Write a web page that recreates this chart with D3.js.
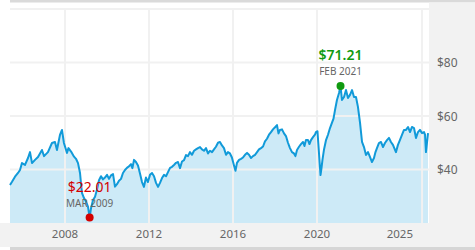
<html>
<head>
<script src="https://d3js.org/d3.v7.min.js"></script>
<style>
  body { margin: 0; background: #fff; }
  text { font-family: "Noto Sans", "Open Sans", sans-serif; }
</style>
</head>
<body>
<svg id="chart" width="475" height="250"></svg>
<script>
// price history
const dates = [
  "2005-05-19","2005-06-23","2005-08-14","2005-10-05","2005-11-09","2005-12-13",
  "2006-02-04","2006-03-28","2006-05-02","2006-06-06","2006-07-28","2006-09-18","2006-11-26",
  "2007-01-01","2007-03-10","2007-05-19","2007-07-10","2007-08-14","2007-10-05","2007-11-09","2007-12-13",
  "2008-02-04","2008-03-01","2008-04-15","2008-06-06","2008-07-10","2008-08-14","2008-09-18","2008-10-10","2008-10-23","2008-11-26",
  "2009-01-01","2009-02-04","2009-03-04","2009-03-28","2009-05-02","2009-06-06","2009-07-10","2009-08-14","2009-09-18","2009-10-23","2009-11-26",
  "2010-01-01","2010-02-04","2010-03-10","2010-04-15","2010-05-19","2010-06-23","2010-07-28","2010-09-01","2010-10-05","2010-11-09","2010-12-13",
  "2011-01-18","2011-02-22","2011-03-18","2011-04-15","2011-05-19","2011-06-23","2011-07-28","2011-09-01","2011-10-05","2011-11-09","2011-12-13",
  "2012-01-18","2012-02-22","2012-03-28","2012-05-02","2012-06-06","2012-07-10","2012-08-14","2012-09-18","2012-10-23","2012-11-26",
  "2013-01-01","2013-02-04","2013-03-10","2013-04-15","2013-05-19","2013-06-23","2013-07-28","2013-09-01","2013-10-05","2013-11-09","2013-12-13",
  "2014-01-18","2014-02-22","2014-03-28","2014-05-02","2014-06-06","2014-07-10","2014-08-14","2014-09-18","2014-10-23","2014-11-26",
  "2015-01-01","2015-02-04","2015-03-10","2015-04-15","2015-05-19","2015-06-23","2015-07-28","2015-09-01","2015-10-05","2015-11-09","2015-12-13",
  "2016-01-18","2016-02-13","2016-03-10","2016-04-15","2016-05-19","2016-06-23","2016-07-28","2016-09-01","2016-10-05","2016-11-09","2016-12-13",
  "2017-01-18","2017-02-22","2017-03-28","2017-05-02","2017-06-06","2017-07-10","2017-08-14","2017-09-18","2017-10-23","2017-11-26",
  "2018-01-01","2018-02-04","2018-03-02","2018-03-28","2018-05-02","2018-06-06","2018-07-10","2018-08-14","2018-09-18","2018-10-23","2018-11-26","2018-12-22",
  "2019-01-18","2019-02-22","2019-03-28","2019-05-02","2019-05-28","2019-06-23","2019-07-28","2019-08-23","2019-09-18","2019-10-23","2019-11-26","2019-12-13",
  "2020-01-09","2020-01-23","2020-03-02","2020-03-19","2020-04-05","2020-05-02","2020-06-06","2020-07-10","2020-08-14","2020-09-18","2020-10-14","2020-11-09","2020-12-13",
  "2021-01-18","2021-02-13","2021-03-10","2021-04-15","2021-05-19","2021-06-23","2021-07-28","2021-09-01","2021-10-05","2021-11-09","2021-12-13",
  "2022-01-18","2022-02-22","2022-03-28","2022-05-02","2022-06-06","2022-07-10","2022-08-14","2022-09-18","2022-10-14","2022-11-09","2022-12-13",
  "2023-01-18","2023-02-22","2023-03-28","2023-05-02","2023-06-06","2023-07-10","2023-08-14","2023-10-05","2023-11-09","2023-12-13",
  "2024-01-18","2024-02-22","2024-03-28","2024-05-02","2024-06-06","2024-07-10","2024-08-14","2024-09-18","2024-10-23","2024-11-26",
  "2025-01-01","2025-02-04","2025-02-22","2025-03-10","2025-03-28","2025-04-15"
];
const prices = [
  34.2,35.4,37.3,38.7,39.8,42.4,
  41.7,44.3,46.5,42.4,43.6,44.7,47.3,
  45.0,46.5,49.9,50.3,47.3,52.9,54.8,49.9,
  46.2,48.0,46.7,44.8,44.0,42.4,38.7,33.6,31.2,29.3,
  28.0,26.0,22.01,25.5,28.6,29.8,32.5,36.0,37.5,36.3,37.0,
  38.0,36.5,37.8,38.3,33.6,34.5,35.8,36.5,38.7,39.8,40.6,
  41.2,42.0,40.5,43.6,42.8,41.5,38.5,35.3,33.5,37.0,35.3,
  38.0,38.7,37.5,35.0,33.5,35.0,36.8,38.0,37.5,39.0,
  40.6,41.0,41.7,42.5,42.8,40.5,43.0,43.5,45.4,45.0,46.5,
  45.5,47.0,47.5,48.0,48.4,47.5,47.0,48.0,46.0,47.0,
  46.5,47.5,48.5,50.0,50.3,49.0,48.0,45.5,46.5,46.0,44.5,
  41.5,39.5,42.5,43.6,44.0,44.5,45.5,46.2,45.5,44.3,45.0,
  45.5,46.5,47.5,48.0,48.6,50.5,51.5,53.0,54.0,55.0,
  55.8,56.6,53.5,54.8,55.0,53.5,52.5,50.0,48.0,46.5,46.0,45.0,
  47.3,48.5,49.5,50.3,48.8,51.0,51.0,49.5,51.0,52.1,53.0,54.0,
  54.3,50.0,37.9,40.5,43.6,47.5,51.0,53.0,55.5,57.5,59.0,62.2,66.0,
  68.6,71.21,66.0,67.1,69.7,66.7,67.9,69.7,67.1,67.1,63.4,
  57.5,50.3,48.4,45.4,46.5,44.7,42.8,44.3,46.5,48.0,49.9,
  50.3,48.4,49.9,51.0,51.8,50.3,49.2,46.5,49.2,51.0,
  52.9,54.8,54.8,55.9,54.0,55.9,55.5,51.8,54.0,54.8,
  53.6,54.0,53.0,46.5,50.0,53.6
];

const xDomain = ["2005-05-19", "2025-05-02"];
const yDomain = [20, 100];
const gridYears = ["2008", "2012", "2016", "2020", "2025"];
const gridPrices = [40, 60, 80, 100];
const priceLabels = [80, 60, 40];

const highDate = "2021-02-13", highPrice = 71.21, highLabel = "FEB 2021";
const lowDate = "2009-03-04", lowPrice = 22.01, lowLabel = "MAR 2009";

const parse = d3.timeParse("%Y-%m-%d");
const data = dates.map((d, i) => ({ date: parse(d), price: prices[i] }));

const svg = d3.select("#chart");
const plotLeft = 10, plotRight = 429, plotTop = 9, plotBottom = 223;

const x = d3.scaleTime().domain(xDomain.map(parse)).range([plotLeft, plotRight]);
const y = d3.scaleLinear().domain(yDomain).range([plotBottom, plotTop]);

// frame pieces
svg.append("rect").attr("x", plotLeft).attr("y", 0).attr("width", 475 - plotLeft).attr("height", 2.5).attr("fill", "#dadada");
svg.append("rect").attr("x", plotRight).attr("y", 2.5).attr("width", 475 - plotRight).attr("height", plotBottom - 2.5).attr("fill", "#f2f2f2");
svg.append("rect").attr("x", 0).attr("y", plotBottom).attr("width", 475).attr("height", 24).attr("fill", "#f2f2f2");
svg.append("rect").attr("x", plotLeft).attr("y", 247).attr("width", 475 - plotLeft).attr("height", 3).attr("fill", "#d6d6d6");

// area fill
svg.append("path")
  .datum(data)
  .attr("fill", "#cdeaf7")
  .attr("d", d3.area().x(d => x(d.date)).y0(plotBottom).y1(d => y(d.price)));

// grid
const yearDate = yr => d3.timeParse("%Y")(yr);
svg.selectAll("line.vgrid").data(gridYears).join("line")
  .attr("x1", d => x(yearDate(d))).attr("x2", d => x(yearDate(d)))
  .attr("y1", plotTop).attr("y2", plotBottom)
  .attr("stroke", "#f1f1f1").attr("stroke-width", 2);
svg.selectAll("line.hgrid").data(gridPrices).join("line")
  .attr("x1", plotLeft).attr("x2", plotRight)
  .attr("y1", d => y(d)).attr("y2", d => y(d))
  .attr("stroke", "#f1f1f1").attr("stroke-width", 2);

// price line
svg.append("path")
  .datum(data)
  .attr("fill", "none")
  .attr("stroke", "#119ad9")
  .attr("stroke-width", 2)
  .attr("stroke-linejoin", "round")
  .attr("d", d3.line().x(d => x(d.date)).y(d => y(d.price)));

// axis labels
svg.selectAll("text.ylab").data(priceLabels).join("text")
  .attr("x", 437).attr("y", d => y(d))
  .attr("dominant-baseline", "central")
  .attr("font-size", 12).attr("fill", "#666")
  .text(d => "$" + d);

svg.selectAll("text.xlab").data(gridYears).join("text")
  .attr("x", (d, i) => i === gridYears.length - 1 ? x(yearDate(d)) - 9 : x(yearDate(d)))
  .attr("y", 238)
  .attr("text-anchor", (d, i) => i === gridYears.length - 1 ? "end" : "middle")
  .attr("font-size", 11.5).attr("fill", "#666")
  .text(d => d);

// high / low markers
function marker(dateStr, price, label, color, weight) {
  const cx = x(parse(dateStr)), cy = y(price);
  svg.append("circle").attr("cx", cx).attr("cy", cy).attr("r", 4).attr("fill", color);
  svg.append("text").attr("x", cx).attr("y", cy - 26)
    .attr("text-anchor", "middle").attr("font-size", 14).attr("font-weight", weight)
    .attr("fill", color).text("$" + price.toFixed(2));
  svg.append("text").attr("x", cx).attr("y", cy - 11)
    .attr("text-anchor", "middle").attr("font-size", 10)
    .attr("fill", "#666").text(label);
}
marker(highDate, highPrice, highLabel, "#109a10", 600);
marker(lowDate, lowPrice, lowLabel, "#d40000", 400);
</script>
</body>
</html>
